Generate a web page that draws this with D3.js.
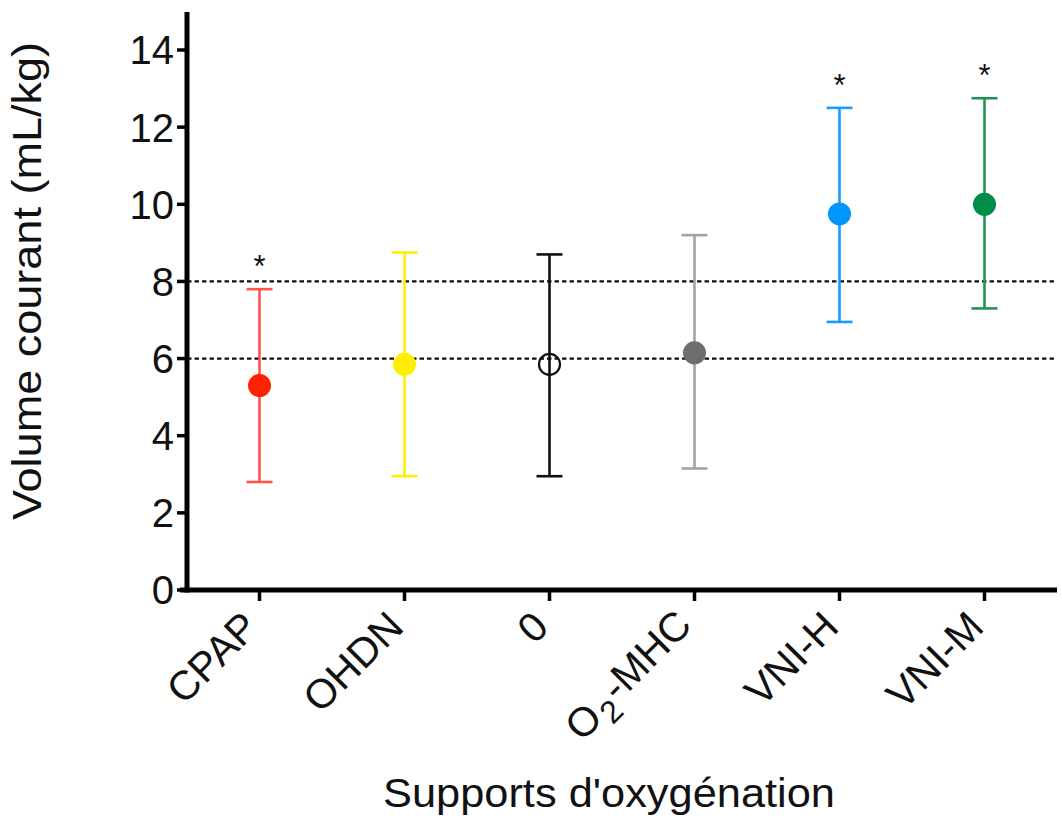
<!DOCTYPE html>
<html><head><meta charset="utf-8">
<script src="https://cdn.jsdelivr.net/npm/d3@7"></script>
<style>body{margin:0;background:#fff}svg{display:block}text{font-family:"Liberation Sans",Arial,sans-serif}</style>
</head><body><svg id="c" width="1062" height="819"></svg>
<script>
const categories = ["CPAP","OHDN","0","O2-MHC","VNI-H","VNI-M"];
const means = [5.3, 5.85, 5.85, 6.15, 9.75, 10.0];
const upper = [7.8, 8.75, 8.7, 9.2, 12.5, 12.75];
const lower = [2.8, 2.95, 2.95, 3.15, 6.95, 7.3];
const significant = [true, false, false, false, true, true];
const markerColors = ["#ff2200","#ffee00","none","#6e6e6e","#0096ff","#008d48"];
const barColors = ["#ff5548","#ffee00","#111111","#a3a3a3","#1a9cff","#1f9355"];
const refLines = [6, 8];
const yTicks = [0,2,4,6,8,10,12,14];

const svg = d3.select("#c");
const x = d3.scalePoint().domain(categories).range([187,1057]).padding(0.5);
const y = d3.scaleLinear().domain([0,14]).range([590,50]);
const axisTop = 12;

// reference lines
svg.selectAll("line.ref").data(refLines).join("line")
  .attr("x1",187).attr("x2",1057).attr("y1",d=>y(d)).attr("y2",d=>y(d))
  .attr("stroke","#111").attr("stroke-width",2.3).attr("stroke-dasharray","4.5,3");

// error bars
const g = svg.selectAll("g.pt").data(categories).join("g").attr("transform",d=>`translate(${x(d)},0)`);
g.append("line").attr("x1",0).attr("x2",0).attr("y1",(d,i)=>y(upper[i])).attr("y2",(d,i)=>y(lower[i]))
  .attr("stroke",(d,i)=>barColors[i]).attr("stroke-width",2.6);
g.append("line").attr("x1",-13).attr("x2",13).attr("y1",(d,i)=>y(upper[i])).attr("y2",(d,i)=>y(upper[i]))
  .attr("stroke",(d,i)=>barColors[i]).attr("stroke-width",2.6);
g.append("line").attr("x1",-13).attr("x2",13).attr("y1",(d,i)=>y(lower[i])).attr("y2",(d,i)=>y(lower[i]))
  .attr("stroke",(d,i)=>barColors[i]).attr("stroke-width",2.6);
g.append("circle").attr("cy",(d,i)=>y(means[i])).attr("r",(d,i)=>markerColors[i]==="none"?10.5:11.5)
  .attr("fill",(d,i)=>markerColors[i]==="none"?"#fff":markerColors[i])
  .attr("fill-opacity",(d,i)=>markerColors[i]==="none"?0:1)
  .attr("stroke",(d,i)=>markerColors[i]==="none"?"#111":"none").attr("stroke-width",2.2);
g.filter((d,i)=>significant[i]).append("text").attr("text-anchor","middle")
  .attr("y",(d)=>{const i=categories.indexOf(d);return y(upper[i])-12;})
  .attr("font-size",31).attr("fill","#111").text("*");

// axes
svg.append("line").attr("x1",187).attr("x2",187).attr("y1",axisTop).attr("y2",592.5).attr("stroke","#000").attr("stroke-width",5);
svg.append("line").attr("x1",180).attr("x2",1057).attr("y1",590).attr("y2",590).attr("stroke","#000").attr("stroke-width",5);
svg.selectAll("line.yt").data(yTicks).join("line").attr("x1",177).attr("x2",187).attr("y1",d=>y(d)).attr("y2",d=>y(d))
  .attr("stroke","#000").attr("stroke-width",3.5);
svg.selectAll("text.yt").data(yTicks).join("text").attr("x",174).attr("y",d=>y(d)).attr("dy","0.36em")
  .attr("text-anchor","end").attr("font-size",40).attr("fill","#111").text(d=>d);
svg.selectAll("line.xt").data(categories).join("line").attr("x1",d=>x(d)).attr("x2",d=>x(d)).attr("y1",590).attr("y2",601)
  .attr("stroke","#000").attr("stroke-width",3.5);
const xl = svg.selectAll("text.xt").data(categories).join("text")
  .attr("transform",d=>`translate(${x(d)-9},${619}) rotate(-45)`)
  .attr("text-anchor","end").attr("font-size",41).attr("fill","#111");
xl.each(function(d){
  const t=d3.select(this);
  if(d==="O2-MHC"){
    t.append("tspan").attr("dy","0.35em").text("O");
    t.append("tspan").attr("dx",2).attr("dy","0.3em").attr("font-size",32).text("2");
    t.append("tspan").attr("dx",2).attr("dy","-0.3em").text("-MHC");
  } else t.attr("dy","0.35em").text(d);
});

svg.append("text").attr("transform","translate(41,281) rotate(-90)").attr("text-anchor","middle")
  .attr("font-size",40).attr("textLength",478).attr("lengthAdjust","spacingAndGlyphs")
  .attr("fill","#111").text("Volume courant (mL/kg)");
svg.append("text").attr("x",383).attr("y",807)
  .attr("font-size",40).attr("textLength",452).attr("lengthAdjust","spacingAndGlyphs")
  .attr("fill","#111").text("Supports d'oxygénation");
</script></body></html>
